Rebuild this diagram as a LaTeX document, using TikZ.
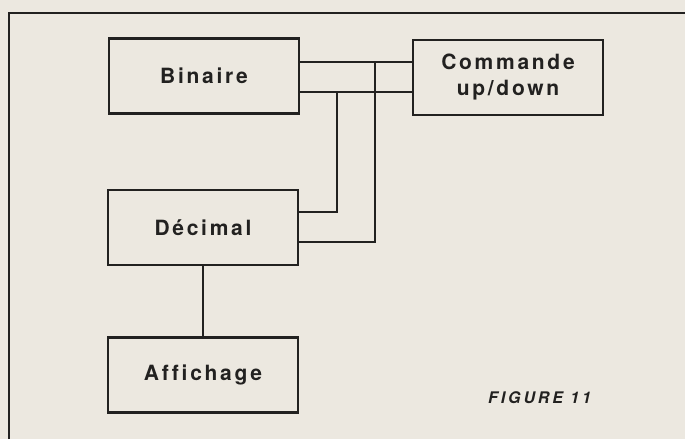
\documentclass[tikz,border=0pt]{standalone}
\usepackage{fontspec}
\setmainfont{TeX Gyre Heros}
\newfontfamily\lblfont[LetterSpace=13,Ligatures={NoCommon}]{TeX Gyre Heros}
\newfontfamily\figfont[LetterSpace=18,Ligatures={NoCommon}]{TeX Gyre Heros}
\definecolor{paper}{HTML}{ECE8E0}
\definecolor{ink}{HTML}{222120}
\begin{document}
\begin{tikzpicture}[x=1pt,y=-1pt,
  blk/.style={draw=ink, line width=2.2pt, minimum width=190pt, minimum height=75pt,
    inner sep=0pt, align=center, text=ink,
    font=\lblfont\bfseries\fontsize{21}{26}\selectfont},
  wire/.style={draw=ink, line width=2.2pt, line cap=rect},
  frameline/.style={draw=ink, line width=1.8pt}]
\fill[paper] (0,0) rectangle (685,439);
\useasboundingbox (0,0) rectangle (685,439);
% outer frame (top and left edges)
\coordinate (fc) at (9,13);
\coordinate (ftr) at (685,13);
\coordinate (fbl) at (9,439);
\draw[frameline] (fbl) -- (fc) -- (ftr);
% blocks
\node[blk] (bin) at (204,76) {Binaire};
\node[blk] (com) at (508,77.5) {Commande\\up/down};
\node[blk] (dec) at (203,227.5) {D\'ecimal};
\node[blk] (aff) at (203,375) {Affichage};
% junction coordinates
\coordinate (ja) at (375,62);
\coordinate (jb) at (337,92);
\coordinate (ka) at (375,242);
\coordinate (kb) at (337,212);
% connectors
\draw[wire] (bin.east |- ja) -- (com.west |- ja);
\draw[wire] (bin.east |- jb) -- (com.west |- jb);
\draw[wire] (ja) -- (ka) -- (dec.east |- ka);
\draw[wire] (jb) -- (kb) -- (dec.east |- kb);
\draw[wire] (dec.south) -- (aff.north);
% caption
\node[anchor=base west, inner sep=0pt, text=ink,
  font=\figfont\bfseries\itshape\fontsize{16}{19}\selectfont] (cap) at (488,403) {FIGURE 11};
\end{tikzpicture}
\end{document}
